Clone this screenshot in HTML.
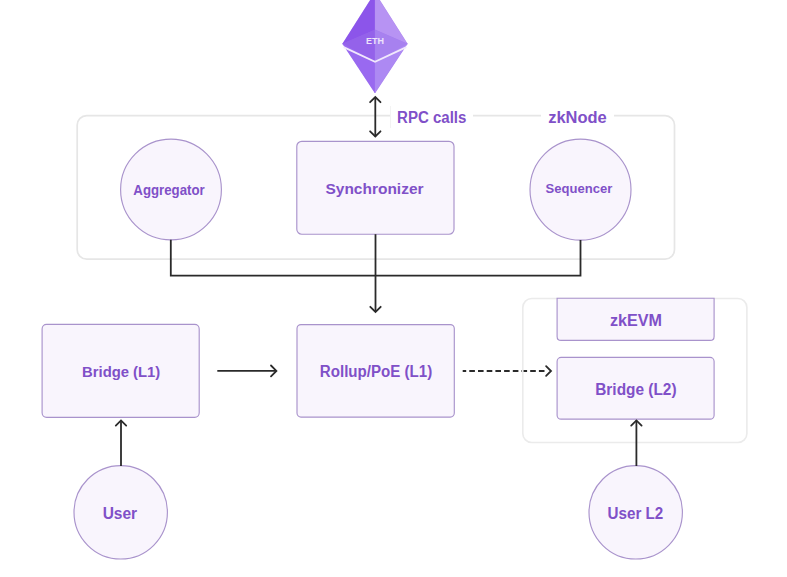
<!DOCTYPE html>
<html><head><meta charset="utf-8">
<style>
html,body{margin:0;padding:0;background:#fff;width:787px;height:577px;overflow:hidden}
svg{display:block}
text{font-family:"Liberation Sans",sans-serif;font-weight:bold;fill:#8050c8}
</style></head>
<body>
<svg width="787" height="577" viewBox="0 0 787 577">
<g>
<polygon points="375,-7.3 342.6,43.8 375,93 407.4,43.8" fill="#9c70ee"/>
<polygon points="375,-7.3 342.6,43.8 375,29.8" fill="#8c55ea" stroke="#8c55ea" stroke-width="0.3"/>
<polygon points="342.6,43.8 375,29.8 375,62" fill="#9462ea" stroke="#9462ea" stroke-width="0.3"/>
<polygon points="375,-7.3 407.4,43.8 375,29.8" fill="#b793f3" stroke="#b793f3" stroke-width="0.3"/>
<polygon points="407.4,43.8 375,29.8 375,62" fill="#a781ef" stroke="#a781ef" stroke-width="0.3"/>
<polygon points="342.6,43.8 375,61.7 375,93" fill="#9969f0" stroke="#9969f0" stroke-width="0.3"/>
<polygon points="407.4,43.8 375,61.7 375,93" fill="#ad89f3" stroke="#ad89f3" stroke-width="0.3"/>
<polyline points="343.6,47.2 375,61.8 406.4,47.2" fill="none" stroke="#f1e8fc" stroke-width="1.9"/>
<text x="375" y="44" text-anchor="middle" font-size="9" style="fill:#eee4fb">ETH</text>
</g>
<rect x="77.2" y="115.6" width="597.3" height="143.6" rx="9.5" fill="none" stroke="#e6e6e6" stroke-width="1.7"/>
<rect x="390" y="106" width="83" height="20" fill="#fff"/>
<rect x="541" y="106" width="73" height="20" fill="#fff"/>
<line x1="390.5" y1="106" x2="390.5" y2="128" stroke="#f3f3f3" stroke-width="1"/>
<text x="397.1" y="123.4" text-anchor="start" font-size="16" textLength="69.3" lengthAdjust="spacingAndGlyphs">RPC calls</text>
<text x="548.2" y="123.1" text-anchor="start" font-size="16" textLength="58.6" lengthAdjust="spacingAndGlyphs">zkNode</text>
<line x1="375.3" y1="97" x2="375.3" y2="136.5" stroke="#2a2a2a" stroke-width="1.8"/>
<path d="M380.50,102.20 L375.3,97 L370.10,102.20" fill="none" stroke="#2a2a2a" stroke-width="1.8" stroke-linejoin="miter" stroke-linecap="round"/>
<path d="M370.10,131.30 L375.3,136.5 L380.50,131.30" fill="none" stroke="#2a2a2a" stroke-width="1.8" stroke-linejoin="miter" stroke-linecap="round"/>
<circle cx="171" cy="189.5" r="50.4" fill="#f9f5fd" stroke="#a993cc" stroke-width="1.15"/>
<text x="169.05" y="194.9" text-anchor="middle" font-size="14.5" textLength="71.4" lengthAdjust="spacingAndGlyphs">Aggregator</text>
<rect x="296.8" y="141.3" width="157.2" height="92.9" rx="5" fill="#f9f5fd" stroke="#a993cc" stroke-width="1.15"/>
<text x="374.5" y="194.1" text-anchor="middle" font-size="15.5" textLength="98.1" lengthAdjust="spacingAndGlyphs">Synchronizer</text>
<circle cx="580.5" cy="189.6" r="50.5" fill="#f9f5fd" stroke="#a993cc" stroke-width="1.15"/>
<text x="578.9" y="193.0" text-anchor="middle" font-size="13.5" textLength="66.7" lengthAdjust="spacingAndGlyphs">Sequencer</text>
<polyline points="170.8,239.8 170.8,275.6 580.5,275.6 580.5,240" fill="none" stroke="#2a2a2a" stroke-width="1.8"/>
<line x1="375.5" y1="234.2" x2="375.5" y2="312" stroke="#2a2a2a" stroke-width="1.8"/>
<path d="M370.30,306.80 L375.5,312 L380.70,306.80" fill="none" stroke="#2a2a2a" stroke-width="1.8" stroke-linejoin="miter" stroke-linecap="round"/>
<rect x="42.1" y="324.4" width="157.1" height="92.9" rx="4.5" fill="#f9f5fd" stroke="#a993cc" stroke-width="1.15"/>
<text x="121.15" y="376.9" text-anchor="middle" font-size="15.5" textLength="78.2" lengthAdjust="spacingAndGlyphs">Bridge (L1)</text>
<line x1="217.3" y1="370.9" x2="276.2" y2="370.9" stroke="#2a2a2a" stroke-width="1.8"/>
<path d="M271.00,376.30 L276.4,370.9 L271.00,365.50" fill="none" stroke="#2a2a2a" stroke-width="1.8" stroke-linejoin="miter" stroke-linecap="round"/>
<rect x="297" y="324.6" width="157.3" height="92.5" rx="4" fill="#f9f5fd" stroke="#a993cc" stroke-width="1.15"/>
<text x="376.05" y="376.9" text-anchor="middle" font-size="16" textLength="112.4" lengthAdjust="spacingAndGlyphs">Rollup/PoE (L1)</text>
<line x1="462.7" y1="371" x2="546" y2="371" stroke="#2a2a2a" stroke-width="2.1" stroke-dasharray="5.6 3.1" stroke-dashoffset="2.1"/>
<path d="M546.10,375.90 L551.0,371 L546.10,366.10" fill="none" stroke="#2a2a2a" stroke-width="1.8" stroke-linejoin="miter" stroke-linecap="round"/>
<rect x="522.8" y="298.5" width="224.1" height="144" rx="9" fill="none" stroke="#ebebeb" stroke-width="1.6"/>
<path d="M557.1,298.2 L557.1,336.4 Q557.1,340.4 561.1,340.4 L710.1,340.4 Q714.1,340.4 714.1,336.4 L714.1,298.2 Z" fill="#f9f5fd" stroke="#a993cc" stroke-width="1.15"/>
<text x="635.9" y="325.6" text-anchor="middle" font-size="16" textLength="52" lengthAdjust="spacingAndGlyphs">zkEVM</text>
<rect x="557.1" y="357.4" width="157" height="61.8" rx="4" fill="#f9f5fd" stroke="#a993cc" stroke-width="1.15"/>
<text x="635.9" y="394.8" text-anchor="middle" font-size="16" textLength="81.3" lengthAdjust="spacingAndGlyphs">Bridge (L2)</text>
<circle cx="120.7" cy="512.3" r="46.7" fill="#f9f5fd" stroke="#a993cc" stroke-width="1.15"/>
<text x="119.9" y="518.5" text-anchor="middle" font-size="16.2" textLength="34.5" lengthAdjust="spacingAndGlyphs">User</text>
<line x1="121" y1="466" x2="121" y2="420.4" stroke="#2a2a2a" stroke-width="1.8"/>
<path d="M126.20,425.60 L121,420.4 L115.80,425.60" fill="none" stroke="#2a2a2a" stroke-width="1.8" stroke-linejoin="miter" stroke-linecap="round"/>
<circle cx="635.7" cy="512.3" r="46.7" fill="#f9f5fd" stroke="#a993cc" stroke-width="1.15"/>
<text x="635.4" y="518.5" text-anchor="middle" font-size="16.2" textLength="55.7" lengthAdjust="spacingAndGlyphs">User L2</text>
<line x1="636.4" y1="466" x2="636.4" y2="420.4" stroke="#2a2a2a" stroke-width="1.8"/>
<path d="M641.60,425.60 L636.4,420.4 L631.20,425.60" fill="none" stroke="#2a2a2a" stroke-width="1.8" stroke-linejoin="miter" stroke-linecap="round"/>
</svg>
</body></html>
